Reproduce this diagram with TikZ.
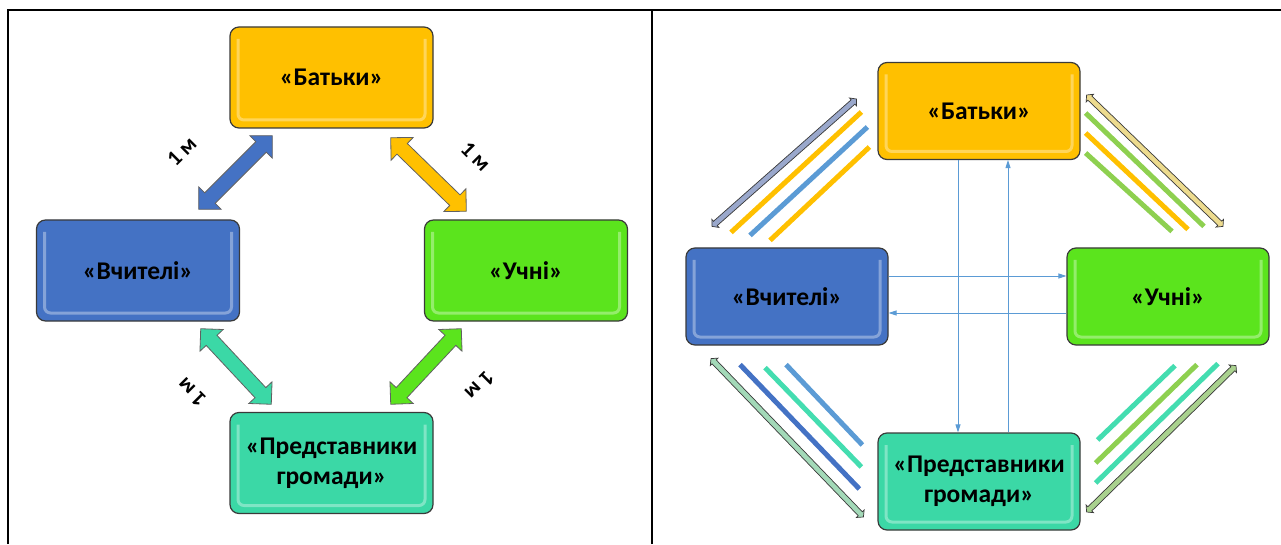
\documentclass[tikz,border=0pt]{standalone}
\usepackage{fontspec}
\setmainfont{Carlito}
\usetikzlibrary{calc,positioning,shapes.arrows,arrows.meta}
\definecolor{batcol}{HTML}{FFC000}
\definecolor{vchcol}{HTML}{4472C4}
\definecolor{uchcol}{HTML}{5BE41D}
\definecolor{precol}{HTML}{3BD8A6}
\definecolor{edge}{HTML}{3A3A3A}
\definecolor{flowcol}{HTML}{5B9BD5}
\definecolor{grncol}{HTML}{8ED050}
\definecolor{tealcol}{HTML}{44DDB0}
\definecolor{tlfill}{HTML}{9AA8CC}
\definecolor{trfill}{HTML}{EDDB8E}
\definecolor{blfill}{HTML}{A3D9B8}
\definecolor{brfill}{HTML}{A9D18E}
\tikzset{
  member/.style={draw=edge,line width=1.2pt,rounded corners=9pt,fill=#1,
    minimum width=203pt,minimum height=101pt,inner sep=0pt,align=center,
    font=\fontsize{25.5}{30}\selectfont\bfseries,
    path picture={\draw[white,opacity=.35,line width=3pt,rounded corners=6pt]
      ($(path picture bounding box.north west)+(8pt,-12pt)$) -- ($(path picture bounding box.south west)+(8pt,8pt)$)
      -- ($(path picture bounding box.south east)+(-8pt,8pt)$) -- ($(path picture bounding box.north east)+(-8pt,-12pt)$);}},
  link/.style={double arrow,fill=#1,draw=edge!80,line width=.8pt,inner xsep=0pt,inner ysep=7pt,
    double arrow head extend=8.5pt,double arrow tip angle=90},
  thinlink/.style={double arrow,fill=#1,draw=edge,line width=.7pt,inner xsep=0pt,inner ysep=2.5pt,
    double arrow head extend=2.5pt,double arrow tip angle=100},
  note/.style={font=\fontsize{22}{24}\selectfont\bfseries,inner sep=0pt},
  flow/.style={flowcol,line width=.9pt,-{Triangle[length=8pt,width=5pt]}},
  band/.style={#1,line width=5pt},
  panel/.style={line width=2pt,line join=miter}
}
\begin{document}
\begin{tikzpicture}[x=1pt,y=1pt]
  \useasboundingbox (0,0) rectangle (1281,544);
  % frame
  \draw[panel] (8,0) -- (8,534) -- (1281,534);
  \draw[panel] (652,0) -- (652,534);

  % left panel
  \node[member=batcol] (bat1) at (331.5,466.5) {«Батьки»};
  \node[member=vchcol] (vch1) at (138,273.5) {«Вчителі»};
  \node[member=uchcol] (uch1) at (526,273.5) {«Учні»};
  \node[member=precol] (pre1) at (331.5,81) {«Представники\\громади»};

  \coordinate (f1a) at ($(vch1.north east)+(-41.5,10)$);
  \coordinate (f1b) at ($(bat1.south west)+(43,-7)$);
  \coordinate (f2a) at ($(bat1.south east)+(-43,-9)$);
  \coordinate (f2b) at ($(uch1.north west)+(42.5,8)$);
  \coordinate (f3a) at ($(vch1.south east)+(-39.5,-7)$);
  \coordinate (f3b) at ($(pre1.north west)+(42,7.5)$);
  \coordinate (f4a) at ($(uch1.south west)+(37.5,-7)$);
  \coordinate (f4b) at ($(pre1.north east)+(-43,7.5)$);

  \path let \p1=($(f1b)-(f1a)$), \n1={veclen(\x1,\y1)} in
    (f1a) -- (f1b) node[link=vchcol,sloped,midway,minimum height=\n1] (k1) {};
  \path let \p1=($(f2b)-(f2a)$), \n1={veclen(\x1,\y1)} in
    (f2a) -- (f2b) node[link=batcol,sloped,midway,minimum height=\n1] (k2) {};
  \path let \p1=($(f3b)-(f3a)$), \n1={veclen(\x1,\y1)} in
    (f3a) -- (f3b) node[link=precol,sloped,midway,minimum height=\n1] (k3) {};
  \path let \p1=($(f4b)-(f4a)$), \n1={veclen(\x1,\y1)} in
    (f4a) -- (f4b) node[link=uchcol,sloped,midway,minimum height=\n1] (k4) {};

  \node[note,rotate=45] (m1) at ($(f1a)!.28!(f1b)!53pt!90:(f1b)$) {1 м};
  \node[note,rotate=-45] (m2) at ($(f2a)!.7!(f2b)!46pt!90:(f2b)$) {1 м};
  \node[note,rotate=135] (m3) at ($(f3a)!.39!(f3b)!50pt!-90:(f3b)$) {1 м};
  \node[note,rotate=-135] (m4) at ($(f4a)!.28!(f4b)!52pt!90:(f4b)$) {1 м};

  % right panel
  \node[member=batcol,minimum width=202pt,minimum height=97pt] (bat2) at (979,433) {«Батьки»};
  \node[member=vchcol,minimum width=202pt,minimum height=97pt] (vch2) at (787,247.5) {«Вчителі»};
  \node[member=uchcol,minimum width=202pt,minimum height=97pt] (uch2) at (1168,247.5) {«Учні»};
  \node[member=precol,minimum width=202pt,minimum height=97pt] (pre2) at (979,62.5) {«Представники\\громади»};

  \draw[flow] ($(bat2.south)+(-21,0)$) -- ($(pre2.north)+(-21,0)$);
  \draw[flow] ($(pre2.north)+(29,0)$) -- ($(bat2.south)+(29,0)$);
  \draw[flow] ($(vch2.east)+(0,20.5)$) -- ($(uch2.west)+(0,20.5)$);
  \draw[flow] ($(uch2.west)+(0,-16.5)$) -- ($(vch2.east)+(0,-16.5)$);

  \draw[band=batcol] ($(vch2.north)+(-56,15)$) -- ($(bat2.west)+(-16,-1)$);
  \draw[band=flowcol] ($(vch2.north)+(-37,12)$) -- ($(bat2.west)+(-10,-16)$);
  \draw[band=batcol] ($(vch2.north)+(-17,7)$) -- ($(bat2.west)+(-8,-36)$);

  \draw[band=grncol] ($(bat2.east)+(5,-2)$) -- ($(uch2.north)+(36,21)$);
  \draw[band=batcol] ($(bat2.east)+(5,-22)$) -- ($(uch2.north)+(20,18)$);
  \draw[band=grncol] ($(bat2.east)+(5,-42)$) -- ($(uch2.north)+(4,16)$);

  \draw[band=vchcol] ($(vch2.south)+(-47,-19)$) -- ($(pre2.west)+(-18,-7.5)$);
  \draw[band=tealcol] ($(vch2.south)+(-22,-22)$) -- ($(pre2.west)+(-16,14.5)$);
  \draw[band=flowcol] ($(vch2.south)+(-1,-19)$) -- ($(pre2.west)+(-15,36.5)$);

  \draw[band=tealcol] ($(uch2.south)+(7,-20)$) -- ($(pre2.east)+(17,41.5)$);
  \draw[band=grncol] ($(uch2.south)+(29,-19)$) -- ($(pre2.east)+(15,18.5)$);
  \draw[band=tealcol] ($(uch2.south)+(50,-18)$) -- ($(pre2.east)+(15,-1.5)$);

  \coordinate (t1a) at ($(vch2.north)+(-75,21)$);
  \coordinate (t1b) at ($(bat2.west)+(-21,12)$);
  \coordinate (t2a) at ($(bat2.east)+(6,16)$);
  \coordinate (t2b) at ($(uch2.north)+(55,21)$);
  \coordinate (t3a) at ($(vch2.south)+(-76,-13)$);
  \coordinate (t3b) at ($(pre2.west)+(-14,-35.5)$);
  \coordinate (t4a) at ($(uch2.south)+(68,-20)$);
  \coordinate (t4b) at ($(pre2.east)+(6,-30.5)$);

  \path let \p1=($(t1b)-(t1a)$), \n1={veclen(\x1,\y1)} in
    (t1a) -- (t1b) node[thinlink=tlfill,sloped,midway,minimum height=\n1] (d1) {};
  \path let \p1=($(t2b)-(t2a)$), \n1={veclen(\x1,\y1)} in
    (t2a) -- (t2b) node[thinlink=trfill,sloped,midway,minimum height=\n1] (d2) {};
  \path let \p1=($(t3b)-(t3a)$), \n1={veclen(\x1,\y1)} in
    (t3a) -- (t3b) node[thinlink=blfill,sloped,midway,minimum height=\n1] (d3) {};
  \path let \p1=($(t4b)-(t4a)$), \n1={veclen(\x1,\y1)} in
    (t4a) -- (t4b) node[thinlink=brfill,sloped,midway,minimum height=\n1] (d4) {};
\end{tikzpicture}
\end{document}
